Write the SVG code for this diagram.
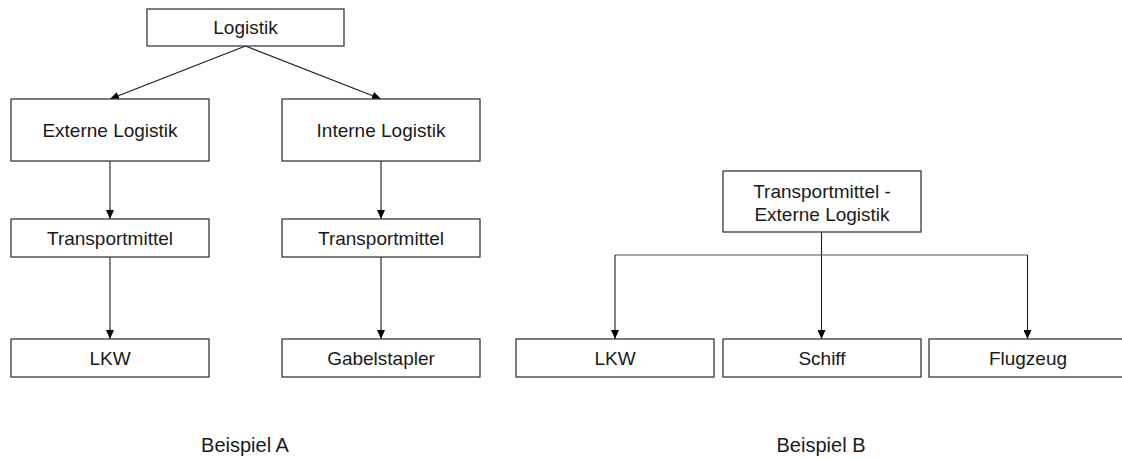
<svg xmlns="http://www.w3.org/2000/svg" width="1122" height="459" viewBox="0 0 1122 459">
  <style>
    .box { fill: #ffffff; stroke: #3a3a3a; stroke-width: 1.3; }
    .lbl { font-family: "Liberation Sans", Arial, sans-serif; font-size: 19px; fill: #1a1a1a; text-anchor: middle; }
    .cap { font-family: "Liberation Sans", Arial, sans-serif; font-size: 20px; fill: #1a1a1a; text-anchor: middle; }
    .edge { fill: none; stroke: #1a1a1a; stroke-width: 1.1; }
    .edge-a { fill: none; stroke: #1a1a1a; stroke-width: 1.1; marker-end: url(#arrow); }
  </style>
  <defs>
    <marker id="arrow" markerUnits="userSpaceOnUse" markerWidth="9" markerHeight="8" refX="9" refY="4" orient="auto">
      <path d="M0,0 L9,4 L0,8 z" fill="#000000"/>
    </marker>
  </defs>
  <rect width="1122" height="459" fill="#ffffff"/>

  <g id="connectors">
    <line class="edge-a" x1="245.5" y1="46" x2="110" y2="99"/>
    <line class="edge-a" x1="245.5" y1="46" x2="381" y2="99"/>
    <line class="edge-a" x1="110" y1="161" x2="110" y2="219"/>
    <line class="edge-a" x1="110" y1="257" x2="110" y2="339"/>
    <line class="edge-a" x1="381" y1="161" x2="381" y2="219"/>
    <line class="edge-a" x1="381" y1="257" x2="381" y2="339"/>
    <line class="edge-a" x1="821.5" y1="232" x2="821.5" y2="339"/>
    <line class="edge" x1="615" y1="255" x2="1027.5" y2="255" style="stroke:#555555"/>
    <line class="edge-a" x1="615" y1="255" x2="615" y2="339"/>
    <line class="edge-a" x1="1027.5" y1="255" x2="1027.5" y2="339"/>
  </g>

  <g id="node-logistik">
    <rect class="box" x="147" y="9" width="197" height="37"/>
    <text class="lbl" x="245.5" y="34.3">Logistik</text>
  </g>
  <g id="node-externe">
    <rect class="box" x="11" y="99" width="198" height="62"/>
    <text class="lbl" x="110" y="136.7">Externe Logistik</text>
  </g>
  <g id="node-interne">
    <rect class="box" x="282" y="99" width="198" height="62"/>
    <text class="lbl" x="381" y="136.7">Interne Logistik</text>
  </g>
  <g id="node-transport-a1">
    <rect class="box" x="11" y="219" width="198" height="38"/>
    <text class="lbl" x="110" y="244.8">Transportmittel</text>
  </g>
  <g id="node-transport-a2">
    <rect class="box" x="282" y="219" width="198" height="38"/>
    <text class="lbl" x="381" y="244.8">Transportmittel</text>
  </g>
  <g id="node-lkw-a">
    <rect class="box" x="11" y="339" width="198" height="38"/>
    <text class="lbl" x="110" y="364.8">LKW</text>
  </g>
  <g id="node-gabelstapler">
    <rect class="box" x="282" y="339" width="198" height="38"/>
    <text class="lbl" x="381" y="364.8">Gabelstapler</text>
  </g>

  <g id="node-transport-b">
    <rect class="box" x="723" y="171" width="198" height="61"/>
    <text class="lbl" x="822" y="197.7">Transportmittel -</text>
    <text class="lbl" x="822" y="220.7">Externe Logistik</text>
  </g>
  <g id="node-lkw-b">
    <rect class="box" x="516" y="339" width="198" height="38"/>
    <text class="lbl" x="615" y="364.8">LKW</text>
  </g>
  <g id="node-schiff">
    <rect class="box" x="723" y="339" width="198" height="38"/>
    <text class="lbl" x="822" y="364.8">Schiff</text>
  </g>
  <g id="node-flugzeug">
    <rect class="box" x="929" y="339" width="198" height="38"/>
    <text class="lbl" x="1028" y="364.8">Flugzeug</text>
  </g>

  <g id="captions">
    <text class="cap" x="245" y="452">Beispiel A</text>
    <text class="cap" x="821" y="452">Beispiel B</text>
  </g>
</svg>
